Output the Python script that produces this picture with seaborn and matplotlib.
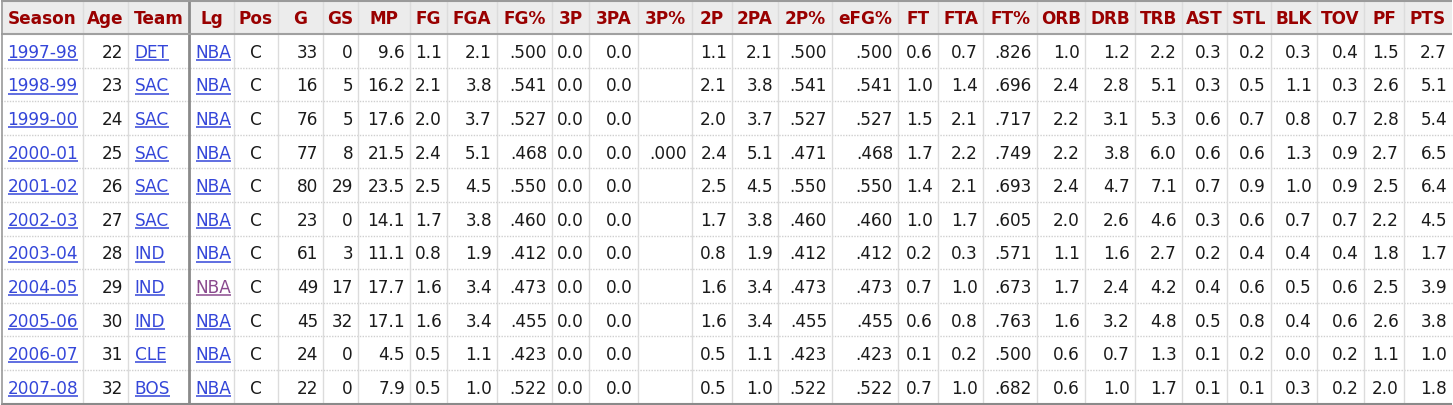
import numpy as np
import pandas as pd
import matplotlib
matplotlib.use("Agg")
import matplotlib.pyplot as plt
import seaborn as sns

# ---------------- data ----------------
seasons = ["1997-98", "1998-99", "1999-00", "2000-01", "2001-02", "2002-03",
           "2003-04", "2004-05", "2005-06", "2006-07", "2007-08"]
ages = [22, 23, 24, 25, 26, 27, 28, 29, 30, 31, 32]
teams = ["DET", "SAC", "SAC", "SAC", "SAC", "SAC", "IND", "IND", "IND", "CLE", "BOS"]
leagues = ["NBA"] * 11
positions = ["C"] * 11
g = [33, 16, 76, 77, 80, 23, 61, 49, 45, 24, 22]
gs = [0, 5, 5, 8, 29, 0, 3, 17, 32, 0, 0]
mp = [9.6, 16.2, 17.6, 21.5, 23.5, 14.1, 11.1, 17.7, 17.1, 4.5, 7.9]
fg = [1.1, 2.1, 2.0, 2.4, 2.5, 1.7, 0.8, 1.6, 1.6, 0.5, 0.5]
fga = [2.1, 3.8, 3.7, 5.1, 4.5, 3.8, 1.9, 3.4, 3.4, 1.1, 1.0]
fg_pct = [.500, .541, .527, .468, .550, .460, .412, .473, .455, .423, .522]
fg3 = [0.0] * 11
fg3a = [0.0] * 11
fg3_pct = [np.nan, np.nan, np.nan, .000, np.nan, np.nan, np.nan, np.nan, np.nan, np.nan, np.nan]
fg2 = [1.1, 2.1, 2.0, 2.4, 2.5, 1.7, 0.8, 1.6, 1.6, 0.5, 0.5]
fg2a = [2.1, 3.8, 3.7, 5.1, 4.5, 3.8, 1.9, 3.4, 3.4, 1.1, 1.0]
fg2_pct = [.500, .541, .527, .471, .550, .460, .412, .473, .455, .423, .522]
efg_pct = [.500, .541, .527, .468, .550, .460, .412, .473, .455, .423, .522]
ft = [0.6, 1.0, 1.5, 1.7, 1.4, 1.0, 0.2, 0.7, 0.6, 0.1, 0.7]
fta = [0.7, 1.4, 2.1, 2.2, 2.1, 1.7, 0.3, 1.0, 0.8, 0.2, 1.0]
ft_pct = [.826, .696, .717, .749, .693, .605, .571, .673, .763, .500, .682]
orb = [1.0, 2.4, 2.2, 2.2, 2.4, 2.0, 1.1, 1.7, 1.6, 0.6, 0.6]
drb = [1.2, 2.8, 3.1, 3.8, 4.7, 2.6, 1.6, 2.4, 3.2, 0.7, 1.0]
trb = [2.2, 5.1, 5.3, 6.0, 7.1, 4.6, 2.7, 4.2, 4.8, 1.3, 1.7]
ast = [0.3, 0.3, 0.6, 0.6, 0.7, 0.3, 0.2, 0.4, 0.5, 0.1, 0.1]
stl = [0.2, 0.5, 0.7, 0.6, 0.9, 0.6, 0.4, 0.6, 0.8, 0.2, 0.1]
blk = [0.3, 1.1, 0.8, 1.3, 1.0, 0.7, 0.4, 0.5, 0.4, 0.0, 0.3]
tov = [0.4, 0.3, 0.7, 0.9, 0.9, 0.7, 0.4, 0.6, 0.6, 0.2, 0.2]
pf = [1.5, 2.6, 2.8, 2.7, 2.5, 2.2, 1.8, 2.5, 2.6, 1.1, 2.0]
pts = [2.7, 5.1, 5.4, 6.5, 6.4, 4.5, 1.7, 3.9, 3.8, 1.0, 1.8]

headers = ["Season", "Age", "Team", "Lg", "Pos", "G", "GS", "MP", "FG", "FGA",
           "FG%", "3P", "3PA", "3P%", "2P", "2PA", "2P%", "eFG%", "FT", "FTA",
           "FT%", "ORB", "DRB", "TRB", "AST", "STL", "BLK", "TOV", "PF", "PTS"]

df = pd.DataFrame({
    "Season": seasons, "Age": ages, "Team": teams, "Lg": leagues, "Pos": positions,
    "G": g, "GS": gs, "MP": mp, "FG": fg, "FGA": fga, "FG%": fg_pct,
    "3P": fg3, "3PA": fg3a, "3P%": fg3_pct, "2P": fg2, "2PA": fg2a, "2P%": fg2_pct,
    "eFG%": efg_pct, "FT": ft, "FTA": fta, "FT%": ft_pct, "ORB": orb, "DRB": drb,
    "TRB": trb, "AST": ast, "STL": stl, "BLK": blk, "TOV": tov, "PF": pf, "PTS": pts,
})

# ---------------- layout / style ----------------
col_edges = [1, 83, 128, 189, 234, 278, 323, 358, 410, 447, 497, 552, 589, 638,
             692, 732, 778, 832, 898, 938, 983, 1037, 1085, 1135, 1182, 1227,
             1271, 1317, 1364, 1404, 1452]
header_h = 34.0
row_h = 33.6
W, H = 1453, 405
FS = 12.2
link_cols = {"Season", "Team", "Lg"}
left_cols = {"Season", "Team", "Lg"}
center_cols = {"Pos"}
int_cols = {"Age", "G", "GS"}
pct_cols = {"FG%", "3P%", "2P%", "eFG%", "FT%"}

LINK = "#3446d9"
VISITED = "#8a4a8e"
HEAD = "#990000"
TEXT = "#1a1a1a"


def fmt(col, v):
    if isinstance(v, str):
        return v
    if pd.isna(v):
        return ""
    if col in int_cols:
        return str(int(v))
    if col in pct_cols:
        s = f"{v:.3f}"
        return s[1:] if s.startswith("0") else s
    return f"{v:.1f}"


sns.set_theme(style="white")
plt.rcParams["font.family"] = ["DejaVu Sans"]

fig = plt.figure(figsize=(W / 100, H / 100), dpi=100)
ax = fig.add_axes([0, 0, 1, 1])
ax.set_xlim(0, W)
ax.set_ylim(H, 0)
ax.axis("off")

n = len(df)
bottom = header_h + row_h * n

# header background
ax.fill_between([col_edges[0], col_edges[-1]], 0, header_h, color="#ececec", lw=0, zorder=0)

# row separators (dotted)
for i in range(1, n):
    y = header_h + row_h * i
    ax.hlines(y, col_edges[0], col_edges[-1], colors="#cfcfcf", linestyles=(0, (1, 1)), lw=1, zorder=1)

# column separators
for j, x in enumerate(col_edges[1:-1], start=1):
    if headers[j - 1] == "Team":
        ax.vlines(x, 0, bottom, colors="#8a8a8a", lw=2, zorder=3)
    else:
        ax.vlines(x, 0, bottom, colors="#dcdcdc", lw=1, zorder=2)

# borders
ax.hlines(0.5, col_edges[0], col_edges[-1], colors="#9a9a9a", lw=1.5, zorder=3)
ax.hlines(header_h, col_edges[0], col_edges[-1], colors="#a0a0a0", lw=1.5, zorder=3)
ax.hlines(bottom, col_edges[0], col_edges[-1], colors="#8a8a8a", lw=1.5, zorder=3)
ax.vlines(col_edges[0] + 0.5, 0, bottom, colors="#9a9a9a", lw=1.2, zorder=3)

# header texts
for j, h in enumerate(headers):
    xc = (col_edges[j] + col_edges[j + 1]) / 2
    ax.text(xc, header_h / 2 + 7, h, ha="center", va="baseline", fontsize=FS,
            fontweight="bold", color=HEAD, zorder=4)

# body texts
underline_texts = []
for i in range(n):
    yb = header_h + row_h * i + row_h / 2 + 7
    for j, col in enumerate(headers):
        s = fmt(col, df[col].iloc[i])
        if s == "":
            continue
        x0, x1 = col_edges[j], col_edges[j + 1]
        if col in left_cols:
            x, ha = x0 + 6.5, "left"
        elif col in center_cols:
            x, ha = (x0 + x1) / 2, "center"
        else:
            x, ha = x1 - 5, "right"
        color = TEXT
        if col in link_cols:
            color = VISITED if (col == "Lg" and seasons[i] == "2004-05") else LINK
        t = ax.text(x, yb, s, ha=ha, va="baseline", fontsize=FS, color=color, zorder=4)
        if col in link_cols:
            underline_texts.append((t, yb, color))

# underlines for link cells
fig.canvas.draw()
renderer = fig.canvas.get_renderer()
inv = ax.transData.inverted()
for t, yb, color in underline_texts:
    bb = t.get_window_extent(renderer=renderer)
    (xa, _), (xb, _) = inv.transform([[bb.x0, bb.y0], [bb.x1, bb.y1]])
    ax.hlines(yb + 2.2, xa, xb, colors=color, lw=1.1, zorder=4)

fig.savefig("out.png", dpi=100)
